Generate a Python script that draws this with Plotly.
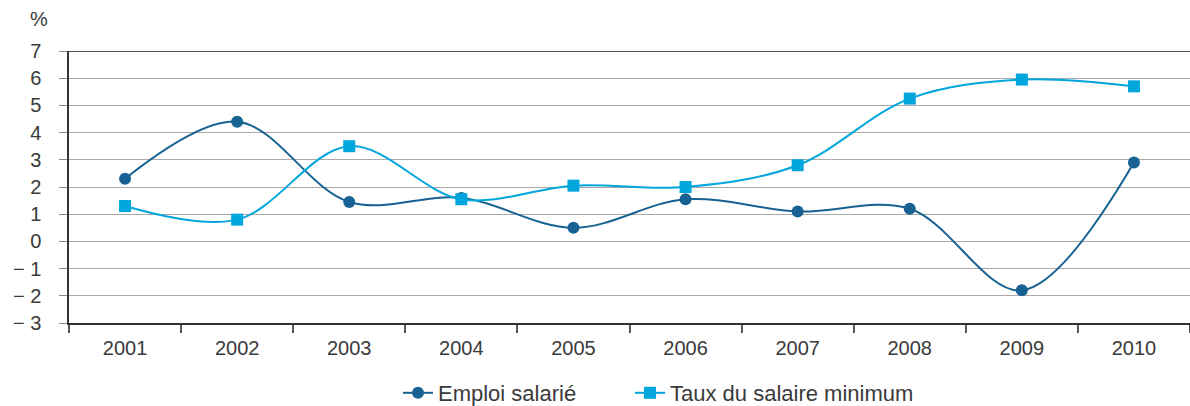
import plotly.graph_objects as go

years = ["2001", "2002", "2003", "2004", "2005", "2006", "2007", "2008", "2009", "2010"]
emploi = [2.3, 4.4, 1.45, 1.6, 0.5, 1.55, 1.1, 1.2, -1.8, 2.9]
taux = [1.3, 0.8, 3.5, 1.55, 2.05, 2.0, 2.8, 5.25, 5.95, 5.7]
ytick_vals = [-3, -2, -1, 0, 1, 2, 3, 4, 5, 6, 7]
ytick_text = ["− 3", "− 2", "− 1", "0", "1", "2", "3", "4", "5", "6", "7"]

dark = "#176293"
light = "#00a6dc"
txt = "#3a3a3a"
fam = "Liberation Sans, Arial, sans-serif"
FS = 20

fig = go.Figure()
fig.add_trace(go.Scatter(
    x=years, y=emploi, name="Emploi salarié", mode="lines+markers",
    line=dict(color=dark, width=2, shape="spline", smoothing=1.0),
    marker=dict(symbol="circle", size=12, color=dark),
    legend="legend",
))
fig.add_trace(go.Scatter(
    x=years, y=taux, name="Taux du salaire minimum", mode="lines+markers",
    line=dict(color=light, width=2, shape="spline", smoothing=1.0),
    marker=dict(symbol="square", size=12, color=light),
    legend="legend2",
))

leg_common = dict(orientation="h", xanchor="left", y=(323 - 393) / 272, yanchor="middle",
                  font=dict(family=fam, size=22, color=txt), bgcolor="rgba(0,0,0,0)")

fig.update_layout(
    width=1190, height=406,
    margin=dict(l=69, r=0, t=51, b=83, autoexpand=False),
    paper_bgcolor="white", plot_bgcolor="white",
    font=dict(family=fam, size=FS, color=txt),
    showlegend=True,
    legend=dict(x=(398 - 69) / 1121, **leg_common),
    legend2=dict(x=(630 - 69) / 1121, **leg_common),
    xaxis=dict(type="category", range=[-0.5, 9.5], showgrid=False,
               showline=True, linecolor="#333", linewidth=1.5,
               ticks="outside", tickson="boundaries", ticklen=8, tickcolor="#555", tickwidth=1.5,
               ticklabelstandoff=6,
               tickfont=dict(family=fam, size=FS, color=txt), zeroline=False),
    yaxis=dict(range=[-3, 7], tickvals=ytick_vals, ticktext=ytick_text,
               showgrid=True, gridcolor="#aaaaaa", gridwidth=1.2,
               showline=True, linecolor="#333", linewidth=1.5,
               ticks="outside", ticklen=8, tickcolor="#888", tickwidth=1,
               ticklabelstandoff=14,
               tickfont=dict(family=fam, size=FS, color=txt), zeroline=False),
)
fig.add_shape(type="line", xref="paper", yref="y", x0=0, x1=1, y0=7, y1=7,
              line=dict(color="#555", width=2))
fig.add_annotation(text="%", xref="paper", yref="paper", x=(39 - 69) / 1121, y=(323 - 19) / 272,
                   showarrow=False, xanchor="center", yanchor="middle",
                   font=dict(family=fam, size=FS, color=txt))

fig.write_html("out.html")
